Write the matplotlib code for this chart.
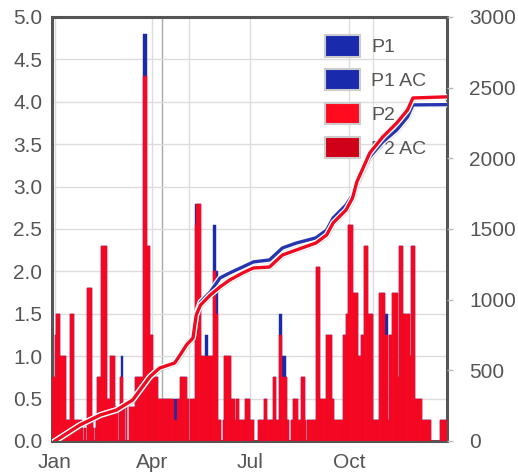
import pandas as pd
import matplotlib
matplotlib.use("Agg")
import matplotlib.pyplot as plt
import matplotlib.dates as mdates
import matplotlib.patheffects as pe
from matplotlib.patches import Patch

plt.rcParams["font.family"] = ["Liberation Sans", "DejaVu Sans"]

# daily P2 values, one list per month (29 Dec 2012 .. 30 Dec 2013)
p2_dec_prev = [0.75, 0.75, 0.75]
p2_jan = [1.25, 1.5, 1.5, 1.5, 1.5, 1.0, 1.0, 1.0, 1.0, 1.0,
          0.25, 0.25, 0.25, 0.25, 1.5, 1.5, 1.5, 1.5, 0.25, 0.25,
          0.25, 0.25, 0.25, 0.25, 0.25, 0.15, 0.0, 0.15, 0.15, 0.0, 1.8]
p2_feb = [1.8, 1.8, 1.8, 0.25, 0.15, 0.0, 0.15, 0.25, 0.75, 0.75,
          0.75, 0.75, 2.3, 2.3, 2.3, 2.3, 2.3, 0.5, 0.5, 0.5,
          1.0, 1.0, 1.0, 1.0, 1.0, 0.4, 0.4, 0.0]
p2_mar = [0.4, 0.75, 0.75, 0.75, 0.4, 0.4, 0.0, 0.4, 0.0, 0.0,
          0.4, 0.4, 0.4, 0.4, 0.4, 0.75, 0.75, 0.75, 0.75, 0.75,
          0.75, 0.75, 0.75, 4.3, 4.3, 4.3, 2.3, 2.3, 2.3, 1.25, 1.25]
p2_apr = [1.25, 0.75, 0.75, 0.75, 0.75, 0.75, 0.5, 0.5, 0.5, 0.5,
          0.5, 0.5, 0.5, 0.5, 0.5, 0.5, 0.5, 0.5, 0.5, 0.5,
          0.25, 0.25, 0.25, 0.5, 0.5, 0.5, 0.75, 0.75, 0.75, 0.75]
p2_may = [0.75, 0.75, 0.5, 0.5, 0.0, 0.5, 0.5, 0.5, 0.5, 0.5,
          2.55, 2.8, 2.8, 2.8, 2.8, 1.0, 1.0, 1.0, 1.0, 1.0,
          1.0, 1.0, 1.0, 1.0, 1.0, 1.0, 1.0, 2.0, 2.0, 1.5, 1.5]
p2_jun = [0.25, 0.25, 0.25, 0.0, 0.0, 0.25, 1.0, 1.0, 1.0, 1.0,
          1.0, 1.0, 0.5, 0.5, 0.5, 0.5, 0.25, 0.5, 0.5, 0.5,
          0.25, 0.25, 0.25, 0.25, 0.25, 0.5, 0.5, 0.5, 0.5, 0.5]
p2_jul = [0.25, 0.25, 0.25, 0.25, 0.0, 0.0, 0.0, 0.25, 0.25, 0.25,
          0.25, 0.25, 0.25, 0.5, 0.5, 0.5, 0.25, 0.25, 0.25, 0.25,
          0.25, 0.75, 0.75, 0.75, 0.25, 0.25, 0.25, 1.25, 1.25, 1.25, 0.75]
p2_aug = [0.75, 0.75, 0.75, 0.25, 0.25, 0.0, 0.0, 0.25, 0.25, 0.5,
          0.5, 0.5, 0.5, 0.25, 0.25, 0.25, 0.75, 0.75, 0.75, 0.75,
          0.25, 0.0, 0.25, 0.25, 0.25, 0.25, 0.25, 0.25, 0.25, 0.25, 2.05]
p2_sep = [2.05, 2.05, 2.05, 0.5, 0.5, 0.5, 0.5, 0.5, 1.25, 1.25,
          1.25, 1.25, 1.25, 1.25, 0.5, 0.5, 0.25, 0.25, 0.25, 0.25,
          0.25, 0.25, 0.25, 0.25, 1.25, 1.25, 1.25, 1.5, 1.5, 2.55]
p2_oct = [2.55, 2.55, 2.55, 1.75, 1.75, 1.75, 1.75, 1.75, 1.0, 1.0,
          1.0, 1.25, 1.25, 1.25, 2.3, 2.3, 2.3, 1.5, 1.5, 1.5,
          1.5, 1.5, 0.25, 0.25, 0.25, 0.25, 0.25, 0.25, 1.75, 1.75, 1.75]
p2_nov = [1.75, 1.75, 1.25, 1.25, 1.25, 0.25, 1.25, 1.25, 1.25, 1.75,
          1.75, 1.75, 1.75, 1.75, 0.75, 2.3, 2.3, 2.3, 2.3, 1.5,
          1.5, 1.5, 1.5, 1.5, 1.5, 1.0, 2.3, 2.3, 2.3, 2.3]
p2_dec = [0.5, 0.5, 0.5, 0.5, 0.5, 0.5, 0.25, 0.25, 0.25, 0.25,
          0.25, 0.25, 0.25, 0.25, 0.25, 0.0, 0.0, 0.0, 0.0, 0.0,
          0.0, 0.0, 0.0, 0.25, 0.25, 0.25, 0.25, 0.25, 0.25, 0.25]

# days where the P1 bar sticks out above the P2 bar
p1_above = {
    "2013-03-03": 1.0, "2013-03-04": 1.0,
    "2013-03-24": 4.8, "2013-03-25": 4.8, "2013-03-26": 4.8,
    "2013-04-21": 0.5, "2013-04-22": 0.5, "2013-04-23": 0.5,
    "2013-05-11": 2.8,
    "2013-05-20": 1.25, "2013-05-21": 1.25, "2013-05-22": 1.25,
    "2013-05-28": 2.55, "2013-05-29": 2.55,
    "2013-05-30": 2.0, "2013-05-31": 2.0,
    "2013-07-28": 1.5, "2013-07-29": 1.5, "2013-07-30": 1.5,
    "2013-07-31": 1.0, "2013-08-01": 1.0, "2013-08-02": 1.0,
    "2013-11-03": 1.5, "2013-11-04": 1.5, "2013-11-05": 1.5,
}

# accumulated series (right axis)
ac_dates = ["2013-01-01", "2013-01-24", "2013-02-12", "2013-02-27", "2013-03-14",
            "2013-03-30", "2013-04-08", "2013-04-22", "2013-04-27", "2013-05-03",
            "2013-05-09", "2013-05-12", "2013-05-16", "2013-05-25", "2013-06-03",
            "2013-06-12", "2013-06-24", "2013-07-04", "2013-07-19", "2013-07-31",
            "2013-08-13", "2013-08-31", "2013-09-10", "2013-09-16", "2013-09-28",
            "2013-10-04", "2013-10-08", "2013-10-20", "2013-11-01", "2013-11-14",
            "2013-11-24", "2013-11-29", "2013-12-30"]
p1_ac = [0, 113, 184, 219, 290, 455, 516, 555, 615, 690,
         740, 900, 984, 1054, 1153, 1189, 1231, 1267, 1281, 1366,
         1401, 1437, 1493, 1578, 1670, 1741, 1833, 2010, 2116, 2201,
         2293, 2378, 2380]
p2_ac = [0, 113, 184, 219, 290, 455, 516, 552, 608, 680,
         729, 892, 962, 1033, 1090, 1139, 1189, 1224, 1231, 1316,
         1352, 1401, 1458, 1543, 1635, 1720, 1833, 2038, 2151, 2250,
         2342, 2427, 2435]

mark_dates = ["2013-04-10", "2013-05-05", "2013-10-23"]

blue = "#1a2aad"
red = "#ff0a1e"
dark_red = "#d00018"
text_col = "#555555"

days = pd.date_range("2012-12-29", "2013-12-30", freq="D")
p2 = pd.Series(p2_dec_prev + p2_jan + p2_feb + p2_mar + p2_apr + p2_may + p2_jun
               + p2_jul + p2_aug + p2_sep + p2_oct + p2_nov + p2_dec, index=days)
p1 = p2.copy()
p1.loc[pd.to_datetime(list(p1_above.keys()))] = list(p1_above.values())

fig = plt.figure(figsize=(5.18, 4.75), dpi=100)
ax = fig.add_axes([52 / 518, 34 / 475, 395 / 518, 424 / 475])
ax2 = ax.twinx()

# grid + odd vertical markers behind bars
ax.set_axisbelow(True)
ax.grid(True, color="#dcdcdc", linewidth=1.0)
for i, d in enumerate(pd.to_datetime(mark_dates)):
    ax.axvline(d, color="#aaaaaa" if i == 0 else "#dcdcdc", linewidth=1.0, zorder=0.5)

ax.bar(p1.index, p1.values, width=1.0, align="edge", color=blue,
       edgecolor=blue, linewidth=0.3, zorder=2)
ax.bar(p2.index, p2.values, width=1.0, align="edge", color=red,
       edgecolor="#e8082a", linewidth=0.3, zorder=3)

fx = [pe.SimpleLineShadow(offset=(1, -1), shadow_color="#888888", alpha=0.3),
      pe.Stroke(linewidth=4.2, foreground="white"), pe.Normal()]
ac_x = pd.to_datetime(ac_dates)
ax2.plot(ac_x, p1_ac, color="#2535b0", linewidth=2.4, path_effects=fx)
ax2.plot(ac_x, p2_ac, color="#f00a20", linewidth=2.4, path_effects=fx)

ax.set_xlim(pd.Timestamp("2012-12-29 05:00"), pd.Timestamp("2013-12-30 15:00"))
ax.set_ylim(0, 5.0)
ax.set_yticks([i * 0.5 for i in range(11)])
ax.yaxis.set_major_formatter(matplotlib.ticker.FormatStrFormatter("%.1f"))
ax.xaxis.set_major_locator(mdates.MonthLocator(bymonth=[1, 4, 7, 10]))
ax.xaxis.set_major_formatter(mdates.DateFormatter("%b"))
ax.tick_params(axis="both", length=0, labelsize=15, labelcolor=text_col)
ax.tick_params(axis="x", pad=9)
ax.tick_params(axis="y", pad=7)

ax2.set_ylim(0, 3000)
ax2.set_yticks(range(0, 3001, 500))
ax2.tick_params(axis="y", length=4, width=1, color="#bbbbbb", labelsize=15,
                labelcolor=text_col, pad=12)

for s in ax.spines.values():
    s.set_color("#555555")
    s.set_linewidth(2.2)
for s in ax2.spines.values():
    s.set_visible(False)

handles = [Patch(facecolor=blue, edgecolor="#cccccc", linewidth=1.5),
           Patch(facecolor=blue, edgecolor="#cccccc", linewidth=1.5),
           Patch(facecolor=red, edgecolor="#cccccc", linewidth=1.5),
           Patch(facecolor=dark_red, edgecolor="#cccccc", linewidth=1.5)]
leg = ax.legend(handles, ["P1", "P1 AC", "P2", "P2 AC"], loc="upper left",
                bbox_to_anchor=(0.672, 0.975), frameon=False, fontsize=14,
                handlelength=1.8, handleheight=1.3, labelspacing=0.65,
                handletextpad=0.55, borderaxespad=0)
for t in leg.get_texts():
    t.set_color(text_col)

fig.savefig("out.png", dpi=100)
